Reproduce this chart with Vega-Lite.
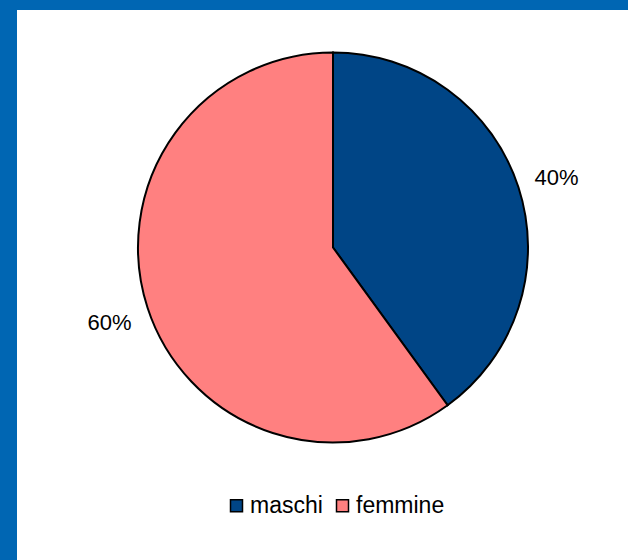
{
  "$schema": "https://vega.github.io/schema/vega-lite/v6.json",
  "autosize": {"type": "none"},
  "padding": {"left": -58, "top": -65, "right": -96, "bottom": 0},
  "width": 782,
  "height": 625,
  "background": "white",
  "view": {"stroke": "#0066b3", "strokeWidth": 150, "strokeDash": [782, 1407, 700], "fill": "white"},
  "config": {
    "font": "Liberation Sans"
  },
  "data": {
    "values": [
      {"sesso": "maschi", "quota": 0.4},
      {"sesso": "femmine", "quota": 0.6}
    ]
  },
  "encoding": {
    "theta": {"field": "quota", "type": "quantitative", "stack": true},
    "order": {"field": "quota", "sort": "ascending"}
  },
  "layer": [
    {
      "mark": {"type": "arc", "outerRadius": 195, "stroke": "black", "strokeWidth": 2},
      "encoding": {
        "color": {
          "field": "sesso",
          "type": "nominal",
          "scale": {"domain": ["maschi", "femmine"], "range": ["#004586", "#ff8080"]},
          "legend": {
            "title": null,
            "orient": "none",
            "direction": "horizontal",
            "legendX": 283,
            "legendY": 559,
            "symbolType": "square",
            "symbolSize": 144,
            "symbolStrokeColor": "black",
            "symbolStrokeWidth": 1.5,
            "labelFontSize": 23,
            "labelFont": "Liberation Sans",
            "labelColor": "black",
            "labelOffset": 2,
            "columnPadding": 8
          }
        }
      }
    },
    {
      "mark": {"type": "text", "radius": 235, "dy": 3, "fontSize": 22, "font": "Liberation Sans", "color": "black", "baseline": "middle", "align": "center"},
      "encoding": {
        "text": {"field": "quota", "type": "quantitative", "format": ".0%"}
      }
    }
  ]
}
